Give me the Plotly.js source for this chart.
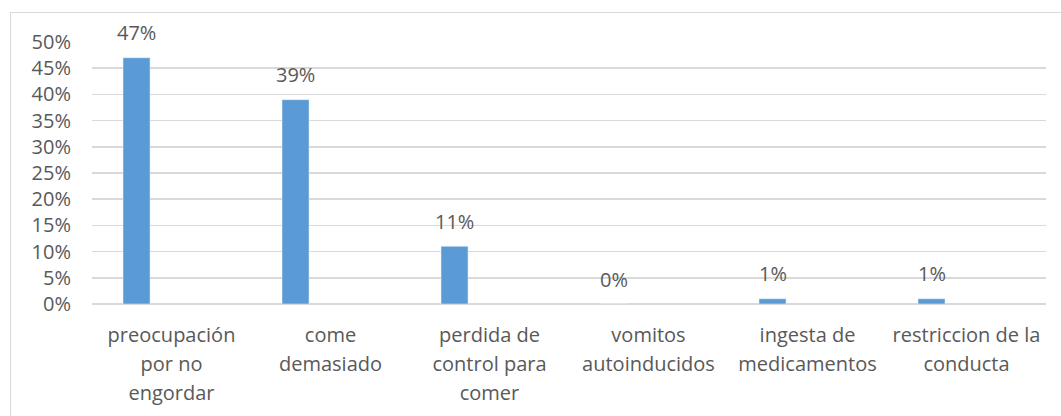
<!DOCTYPE html>
<html>
<head>
<meta charset="utf-8">
<script src="https://cdn.plot.ly/plotly-3.0.1.min.js"></script>
<style>
  html, body { margin: 0; padding: 0; background: #fff; }
  #frame { position: absolute; left: 10px; top: 12px; width: 1060px; height: 420px; border: 1px solid #d9d9d9; box-sizing: border-box; }
  #chart { position: absolute; left: 0; top: 0; width: 1061px; height: 416px; }
</style>
</head>
<body>
<div id="frame"></div>
<div id="chart"></div>
<script>
const categories = [
  "preocupación<br>por no<br>engordar",
  "come<br>demasiado",
  "perdida de<br>control para<br>comer",
  "vomitos<br>autoinducidos",
  "ingesta de<br>medicamentos",
  "restriccion de la<br>conducta"
];
const values = [0.47, 0.39, 0.11, 0.00, 0.01, 0.01];
const valueLabels = ["47%", "39%", "11%", "0%", "1%", "1%"];
const yTickVals = [0, 0.05, 0.10, 0.15, 0.20, 0.25, 0.30, 0.35, 0.40, 0.45, 0.50];
const yTickText = ["0%", "5%", "10%", "15%", "20%", "25%", "30%", "35%", "40%", "45%", "50%"];

const textColor = "#595959";
const fontFamily = "'Open Sans', 'Liberation Sans', sans-serif";
const labelSize = 20;

// larger base font for line spacing; actual glyph size set on inner spans
const xTickText = categories.map(c =>
  c.split("<br>").map(l => `<span style="font-size:${labelSize}px">${l}</span>`).join("<br>")
);

const trace = {
  type: "bar",
  x: categories,
  y: values,
  marker: { color: "#5b9bd5", line: { color: "#e8f0fa", width: 0.5 } },
  offset: -0.305,
  width: 0.17,
  hoverinfo: "skip",
  cliponaxis: false
};

const annotations = categories.map((c, i) => ({
  x: c,
  y: values[i],
  xref: "x",
  yref: "y",
  text: valueLabels[i],
  showarrow: false,
  xshift: -35,
  yshift: 25,
  yanchor: "middle",
  font: { family: fontFamily, size: labelSize, color: textColor }
}));

const layout = {
  width: 1061,
  height: 416,
  margin: { l: 92, r: 15, t: 42, b: 112 },
  paper_bgcolor: "rgba(0,0,0,0)",
  plot_bgcolor: "rgba(0,0,0,0)",
  showlegend: false,
  bargap: 0,
  xaxis: {
    type: "category",
    tickmode: "array",
    tickvals: categories,
    ticktext: xTickText,
    showgrid: false,
    zeroline: false,
    showline: false,
    ticks: "",
    tickangle: 0,
    ticklabelstandoff: 14,
    tickfont: { family: fontFamily, size: 22.5, color: textColor }
  },
  yaxis: {
    range: [0, 0.5],
    tickvals: yTickVals,
    ticktext: yTickText,
    showgrid: true,
    gridcolor: "#d9d9d9",
    gridwidth: 1.5,
    zeroline: true,
    zerolinecolor: "#d9d9d9",
    zerolinewidth: 1.5,
    showline: false,
    ticks: "",
    ticklabelstandoff: 20,
    tickfont: { family: fontFamily, size: labelSize, color: textColor }
  },
  annotations: annotations
};

Plotly.newPlot("chart", [trace], layout, { displayModeBar: false, staticPlot: true });
</script>
</body>
</html>
